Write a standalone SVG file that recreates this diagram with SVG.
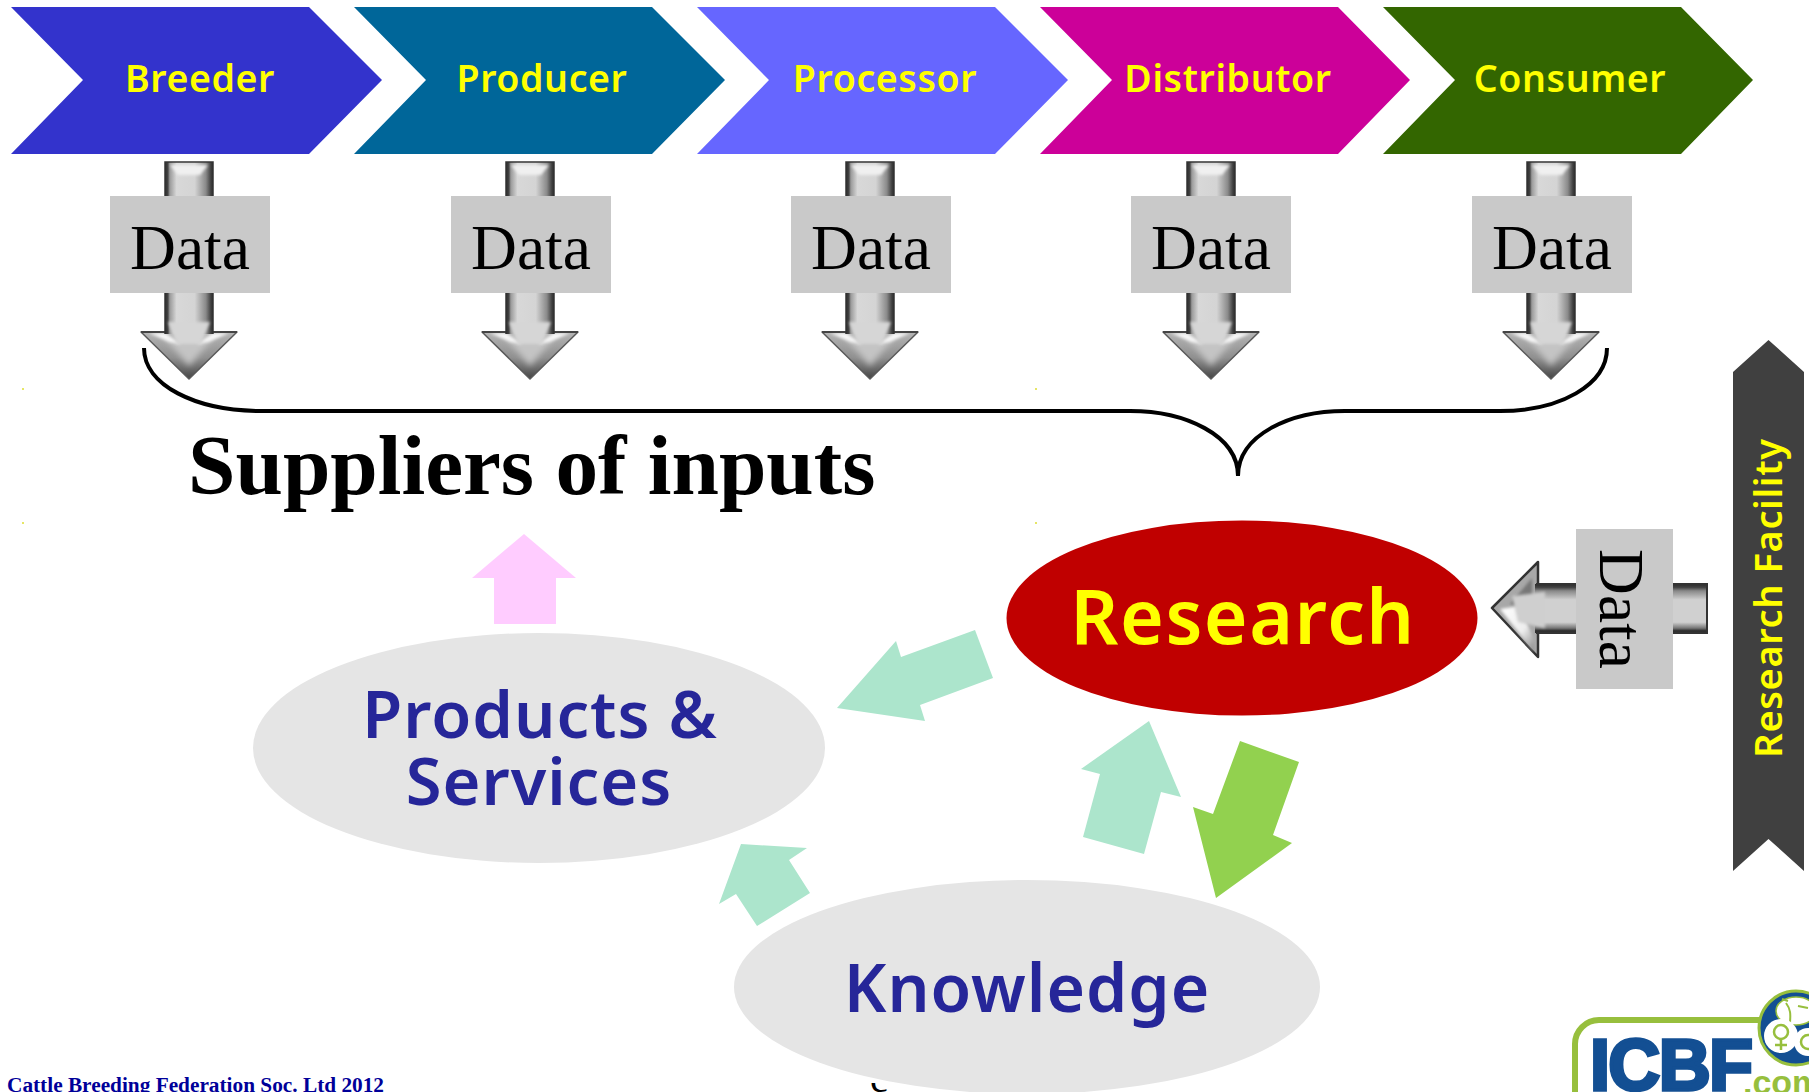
<svg xmlns="http://www.w3.org/2000/svg" width="1809" height="1092" viewBox="0 0 1809 1092">
<style>
.v{font-family:"Noto Sans","DejaVu Sans",sans-serif;font-weight:600}
.c{font-size:37.5px;fill:#ff0;text-anchor:middle;letter-spacing:.6px}
.b{font-size:65px;fill:#262699;text-anchor:middle;letter-spacing:1px}
.d{font-family:"Liberation Serif",serif;font-size:63.5px;fill:#000;text-anchor:middle}
.g{fill:#c9c9c9}
.t{fill:#ace5cc}
.e{fill:#e5e5e5}
.y{fill:#e6e666}
</style>
<defs>
<linearGradient id="sh" x1="0" x2="1" y1="0" y2="0">
<stop offset="0" stop-color="#2a2a2a"/><stop offset=".06" stop-color="#444"/><stop offset=".1" stop-color="#9a9a9a"/><stop offset=".24" stop-color="#d8d8d8"/><stop offset=".62" stop-color="#d4d4d4"/><stop offset=".85" stop-color="#8a8a8a"/><stop offset=".95" stop-color="#444"/><stop offset="1" stop-color="#2a2a2a"/>
</linearGradient>
<linearGradient id="sh2" x1="0" x2="0" y1="0" y2="1">
<stop offset="0" stop-color="#2a2a2a"/><stop offset=".07" stop-color="#444"/><stop offset=".14" stop-color="#888"/><stop offset=".32" stop-color="#d0d0d0"/><stop offset=".78" stop-color="#d0d0d0"/><stop offset=".9" stop-color="#777"/><stop offset=".95" stop-color="#333"/><stop offset="1" stop-color="#2a2a2a"/>
</linearGradient>
<linearGradient id="hd" x1="0" x2="0" y1="0" y2="1">
<stop offset="0" stop-color="#b5b5b5"/><stop offset=".55" stop-color="#8f8f8f"/><stop offset="1" stop-color="#444"/>
</linearGradient>
<linearGradient id="gl" x1="0" x2="1" y1="0" y2="1">
<stop offset="0" stop-color="#fff"/><stop offset=".6" stop-color="#eee"/><stop offset="1" stop-color="#888"/>
</linearGradient>
<filter id="s" x="-30%" y="-30%" width="160%" height="160%"><feGaussianBlur stdDeviation="1.5"/></filter>
<filter id="s3" x="-30%" y="-30%" width="160%" height="160%"><feGaussianBlur stdDeviation="3"/></filter>
<clipPath id="stray-clip"><rect x="860" y="1083" width="40" height="9"/></clipPath>
<g id="down">
<polygon points="-48,170 48,170 0,217" fill="url(#hd)" stroke="#5a5a5a" stroke-width="1.5" stroke-linejoin="round"/>
<polygon points="-26,174 26,174 0,204" fill="#c4c4c4" filter="url(#s3)"/>
<polygon points="-40,171 -24,171 -8,182 -20,180" fill="#f6f6f6" filter="url(#s)"/>
<polygon points="40,171 24,171 8,182 20,180" fill="#f6f6f6" filter="url(#s)"/>
<path d="M-48,170H-24M24,170H48" stroke="#444" stroke-width="2"/>
<rect x="-24" y="0" width="48" height="172" fill="url(#sh)"/>
<path d="M-24,172V0H24V172" fill="none" stroke="#333" stroke-width="1.5"/>
<polygon points="-19,3 19,3 11,13 -11,13" fill="#f0f0f0" filter="url(#s)"/>
<polygon points="-21,160 21,160 12,182 -12,182" fill="#d6d6d6" filter="url(#s)"/>
</g>
</defs>
<rect width="1809" height="1092" fill="#fff"/>
<g id="marks" class="y"><rect x="22" y="388" width="2" height="2"/><rect x="22" y="522" width="2" height="2"/><rect x="1035" y="388" width="2" height="2"/><rect x="1035" y="522" width="2" height="2"/></g>
<g id="stray"><text x="870" y="1092" clip-path="url(#stray-clip)" font-family="Liberation Serif,serif" font-size="40" fill="#000">c</text></g>
<g id="breeder"><polygon points="11,7 309,7 382,80 309,154 11,154 83,80" fill="#3333cc"/><text class="v c" x="200" y="92">Breeder</text></g>
<g id="producer"><polygon points="354,7 652,7 725,80 652,154 354,154 426,80" fill="#006699"/><text class="v c" x="542" y="92">Producer</text></g>
<g id="processor"><polygon points="697,7 995,7 1068,80 995,154 697,154 769,80" fill="#6666ff"/><text class="v c" x="885" y="92">Processor</text></g>
<g id="distributor"><polygon points="1040,7 1338,7 1410,80 1338,154 1040,154 1112,80" fill="#cc0099"/><text class="v c" x="1228" y="92">Distributor</text></g>
<g id="consumer"><polygon points="1383,7 1681,7 1753,80 1681,154 1383,154 1455,80" fill="#336600"/><text class="v c" x="1570" y="92">Consumer</text></g>
<g id="connectors">
<use href="#down" x="189" y="162"/><use href="#down" x="530" y="162"/><use href="#down" x="870" y="162"/><use href="#down" x="1211" y="162"/><use href="#down" x="1551" y="162"/>
<path d="M144,348C144,385 195,411 262,411H1130C1185,411 1238,435 1238,476C1238,435 1290,411 1345,411H1500C1560,411 1607,385 1607,348" fill="none" stroke="#000" stroke-width="4"/>
<polygon points="524,534 472,578 494,578 494,624 556,624 556,578 576,578" fill="#ffccff"/>
<polygon class="t" points="975,630 993,678 920,705 925,721 837,708 896,641 901,657"/>
<polygon class="t" points="1149,721 1181,797 1161,792 1144,854 1083,837 1100,774 1081,769"/>
<polygon points="1240,741 1299,762 1273,835 1292,843 1216,898 1193,807 1213,814" fill="#92d14f"/>
<polygon class="t" points="741,844 807,848 789,860 810,893 757,926 736,894 719,904"/>
<polygon points="1492,608 1538,562 1538,657" fill="#a8a8a8" stroke="#333" stroke-width="2.5" stroke-linejoin="round"/>
<polygon points="1510,604 1532,578 1532,612" fill="#777" filter="url(#s)"/>
<rect x="1535" y="584" width="172" height="49" fill="url(#sh2)"/>
<path d="M1536,584H1707V633H1536" fill="none" stroke="#333" stroke-width="2"/>
<polygon points="1500,609 1520,606 1534,640 1534,652" fill="url(#gl)" filter="url(#s)"/>
<polygon points="1512,596 1545,592 1545,628 1518,622" fill="#cfcfcf" filter="url(#s)"/>
</g>
<g id="data1"><rect class="g" x="110" y="196" width="160" height="97"/><text class="d" x="190" y="269">Data</text></g>
<g id="data2"><rect class="g" x="451" y="196" width="160" height="97"/><text class="d" x="531" y="269">Data</text></g>
<g id="data3"><rect class="g" x="791" y="196" width="160" height="97"/><text class="d" x="871" y="269">Data</text></g>
<g id="data4"><rect class="g" x="1131" y="196" width="160" height="97"/><text class="d" x="1211" y="269">Data</text></g>
<g id="data5"><rect class="g" x="1472" y="196" width="160" height="97"/><text class="d" x="1552" y="269">Data</text></g>
<g id="data6"><rect class="g" x="1576" y="529" width="97" height="160"/><text class="d" transform="translate(1600,609) rotate(90)" x="0" y="0">Data</text></g>
<text id="suppliers" x="188" y="494" font-family="Liberation Serif,serif" font-weight="700" font-size="85.3" fill="#000">Suppliers of inputs</text>
<g id="products"><ellipse class="e" cx="539" cy="748" rx="286" ry="115"/><text class="v b" x="540" y="738">Products &amp;</text><text class="v b" x="539" y="805">Services</text></g>
<g id="knowledge"><ellipse class="e" cx="1027" cy="987" rx="293" ry="107"/><text class="v b" x="1027" y="1012" style="font-size:66px">Knowledge</text></g>
<g id="research"><ellipse cx="1242" cy="618" rx="235.5" ry="97.5" fill="#c00000"/><text class="v" x="1243" y="644" font-size="75" fill="#ff0" text-anchor="middle" letter-spacing="1.5">Research</text></g>
<g id="facility"><polygon points="1768.5,340 1804,372 1804,871 1768.5,839 1733,871 1733,372" fill="#404040"/><text class="v" transform="translate(1782,598) rotate(-90)" font-size="38" fill="#ff0" text-anchor="middle" letter-spacing=".6">Research Facility</text></g>
<text id="credit" x="7" y="1092" font-family="Liberation Serif,serif" font-weight="700" font-size="21.3" fill="#000099">Cattle Breeding Federation Soc. Ltd 2012</text>
<g id="logo">
<rect x="1575" y="1020" width="300" height="120" rx="24" fill="none" stroke="#97bf3d" stroke-width="6"/>
<text x="1590" y="1090" font-family="Liberation Sans,sans-serif" font-weight="700" font-size="72" fill="#134f93" stroke="#134f93" stroke-width="3.5" textLength="163">ICBF</text>
<text x="1743" y="1094" font-family="Liberation Sans,sans-serif" font-weight="700" font-size="34" fill="#97bf3d">.com</text>
<circle cx="1796" cy="1028" r="37" fill="#134f93" stroke="#97bf3d" stroke-width="3"/>
<ellipse cx="1796" cy="1011" rx="20" ry="14" fill="#fff" stroke="#97bf3d" stroke-width="1.5"/>
<path d="M1786,1003C1792,1011 1790,1017 1790,1024M1798,1006L1808,1008M1788,1001L1782,999" fill="none" stroke="#97bf3d" stroke-width="2"/>
<circle cx="1781" cy="1036" r="17" fill="#fff"/>
<circle cx="1781" cy="1032" r="7" fill="none" stroke="#97bf3d" stroke-width="2.5"/>
<path d="M1781,1039V1050M1775,1045H1787" stroke="#97bf3d" stroke-width="2.5"/>
<circle cx="1808" cy="1042" r="14" fill="#fff"/>
<circle cx="1808" cy="1042" r="7" fill="none" stroke="#97bf3d" stroke-width="2.5"/>
</g>
</svg>
